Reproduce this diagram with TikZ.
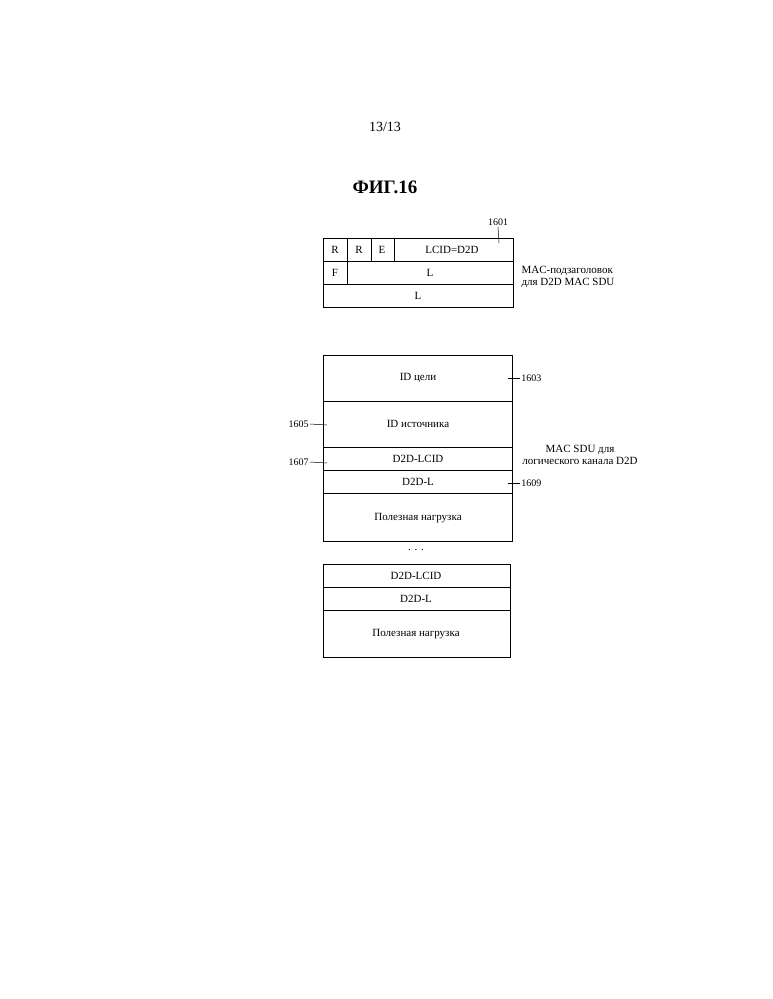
\documentclass[tikz,border=0pt]{standalone}
\usepackage{fontspec}
\setmainfont{Liberation Serif}
\begin{document}
\begin{tikzpicture}[x=1pt,y=-1pt,line width=0.8pt,
  lbl/.style={font=\fontsize{11}{12}\selectfont,inner sep=1pt},
  num/.style={font=\fontsize{10}{11}\selectfont,inner sep=1pt}]
\useasboundingbox (0,0) rectangle (772,999);
\node[font=\fontsize{14}{16}\selectfont] (pg) at (385,127) {13/13};
\node[font=\bfseries\fontsize{19}{21}\selectfont] (fig) at (385,187) {ФИГ.16};
% header
\draw (323,238) rectangle (513,307);
\draw (323,261) -- (513,261) (323,284) -- (513,284);
\draw (347,238) -- (347,284) (371,238) -- (371,261) (394,238) -- (394,261);
\node[lbl] (r1) at (335,250) {R};
\node[lbl] (r2) at (359,250) {R};
\node[lbl] (e) at (382,250) {E};
\node[lbl] (lcid) at (452,250) {LCID=D2D};
\node[lbl] (f) at (335,273) {F};
\node[lbl] (l1) at (430,273) {L};
\node[lbl] (l2) at (418,296) {L};
\node[num] (n1601) at (498,222) {1601};
\coordinate (c1601) at (499,243);
\draw[line width=0.5pt] (n1601.south) -- (c1601);
\node[lbl,align=left] (mach) at (568,277) {MAC-подзаголовок\\для D2D MAC SDU};
% SDU
\draw (323,355) rectangle (512,541);
\draw (323,401) -- (512,401) (323,447) -- (512,447) (323,470) -- (512,470) (323,493) -- (512,493);
\node[lbl] (dst) at (418,378) {ID цели};
\node[lbl] (src) at (418,424) {ID источника};
\node[lbl] (dlcid) at (418,459) {D2D-LCID};
\node[lbl] (dl) at (418,482) {D2D-L};
\node[lbl] (pl) at (418,518) {Полезная нагрузка};
\node[num,anchor=west] (n1603) at (520,378) {1603};
\coordinate (c1603) at (508,378);
\draw[line width=0.5pt] (n1603.west) -- (c1603);
\node[num,anchor=east] (n1605) at (310,424) {1605};
\coordinate (c1605) at (327,425);
\draw[line width=0.5pt] (n1605.east) -- (c1605);
\node[num,anchor=east] (n1607) at (310,462) {1607};
\coordinate (c1607) at (327,463);
\draw[line width=0.5pt] (n1607.east) -- (c1607);
\node[num,anchor=west] (n1609) at (520,483) {1609};
\coordinate (c1609) at (508,483);
\draw[line width=0.5pt] (n1609.west) -- (c1609);
\node[lbl,align=center] (macsdu) at (580,455) {MAC SDU для\\логического канала D2D};
\node[lbl] (dots) at (416,550) {. . .};
% second
\draw (323,564) rectangle (510,657);
\draw (323,587) -- (510,587) (323,610) -- (510,610);
\node[lbl] (dlcid2) at (416,576) {D2D-LCID};
\node[lbl] (dl2) at (416,599) {D2D-L};
\node[lbl] (pl2) at (416,634) {Полезная нагрузка};
\end{tikzpicture}
\end{document}
